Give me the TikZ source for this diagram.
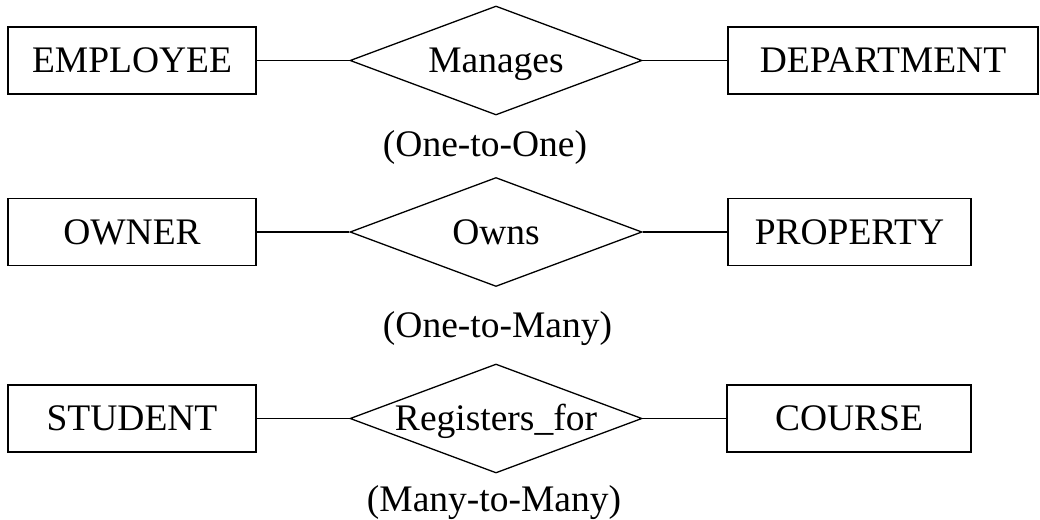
\documentclass[tikz,border=0pt]{standalone}
\usepackage{fontspec}
\setmainfont{Liberation Serif}
\usetikzlibrary{shapes.geometric}
\begin{document}
\begin{tikzpicture}[x=1pt,y=-1pt,
  every node/.style={font=\fontsize{37.5}{42}\selectfont, text height=24.8pt, text depth=0pt, inner sep=0pt},
  entity/.style={draw, line width=1.3pt, minimum height=67pt},
  relation/.style={draw, diamond, line width=1.3pt, aspect=2.7, minimum width=292pt, minimum height=109pt},
  link/.style={line width=1.3pt},
  card/.style={}
]
\useasboundingbox (0,0) rectangle (1040,519);

% One-to-one
\node[entity, minimum width=248pt] (emp) at (132,60.5) {EMPLOYEE};
\node[relation] (man) at (496,60.5) {Manages};
\node[entity, minimum width=310pt] (dep) at (883,60.5) {DEPARTMENT};
\node[card] (c1) at (485,144) {(One-to-One)};
\draw[link] (emp.east) -- (man.west);
\draw[link] (man.east) -- (dep.west);

% One-to-many
\node[entity, minimum width=248pt] (own) at (132,232) {OWNER};
\node[relation] (owns) at (496,232) {Owns};
\node[entity, minimum width=243pt] (prop) at (849.5,232) {PROPERTY};
\node[card] (c2) at (497.5,325) {(One-to-Many)};
\draw[link] (own.east) -- (owns.west);
\draw[link] (owns.east) -- (prop.west);

% Many-to-many
\node[entity, minimum width=248pt] (stu) at (132,418.5) {STUDENT};
\node[relation] (reg) at (496,418.5) {Registers\_for};
\node[entity, minimum width=244pt] (crs) at (849,418.5) {COURSE};
\node[card] (c3) at (494,499.5) {(Many-to-Many)};
\draw[link] (stu.east) -- (reg.west);
\draw[link] (reg.east) -- (crs.west);
\end{tikzpicture}
\end{document}
